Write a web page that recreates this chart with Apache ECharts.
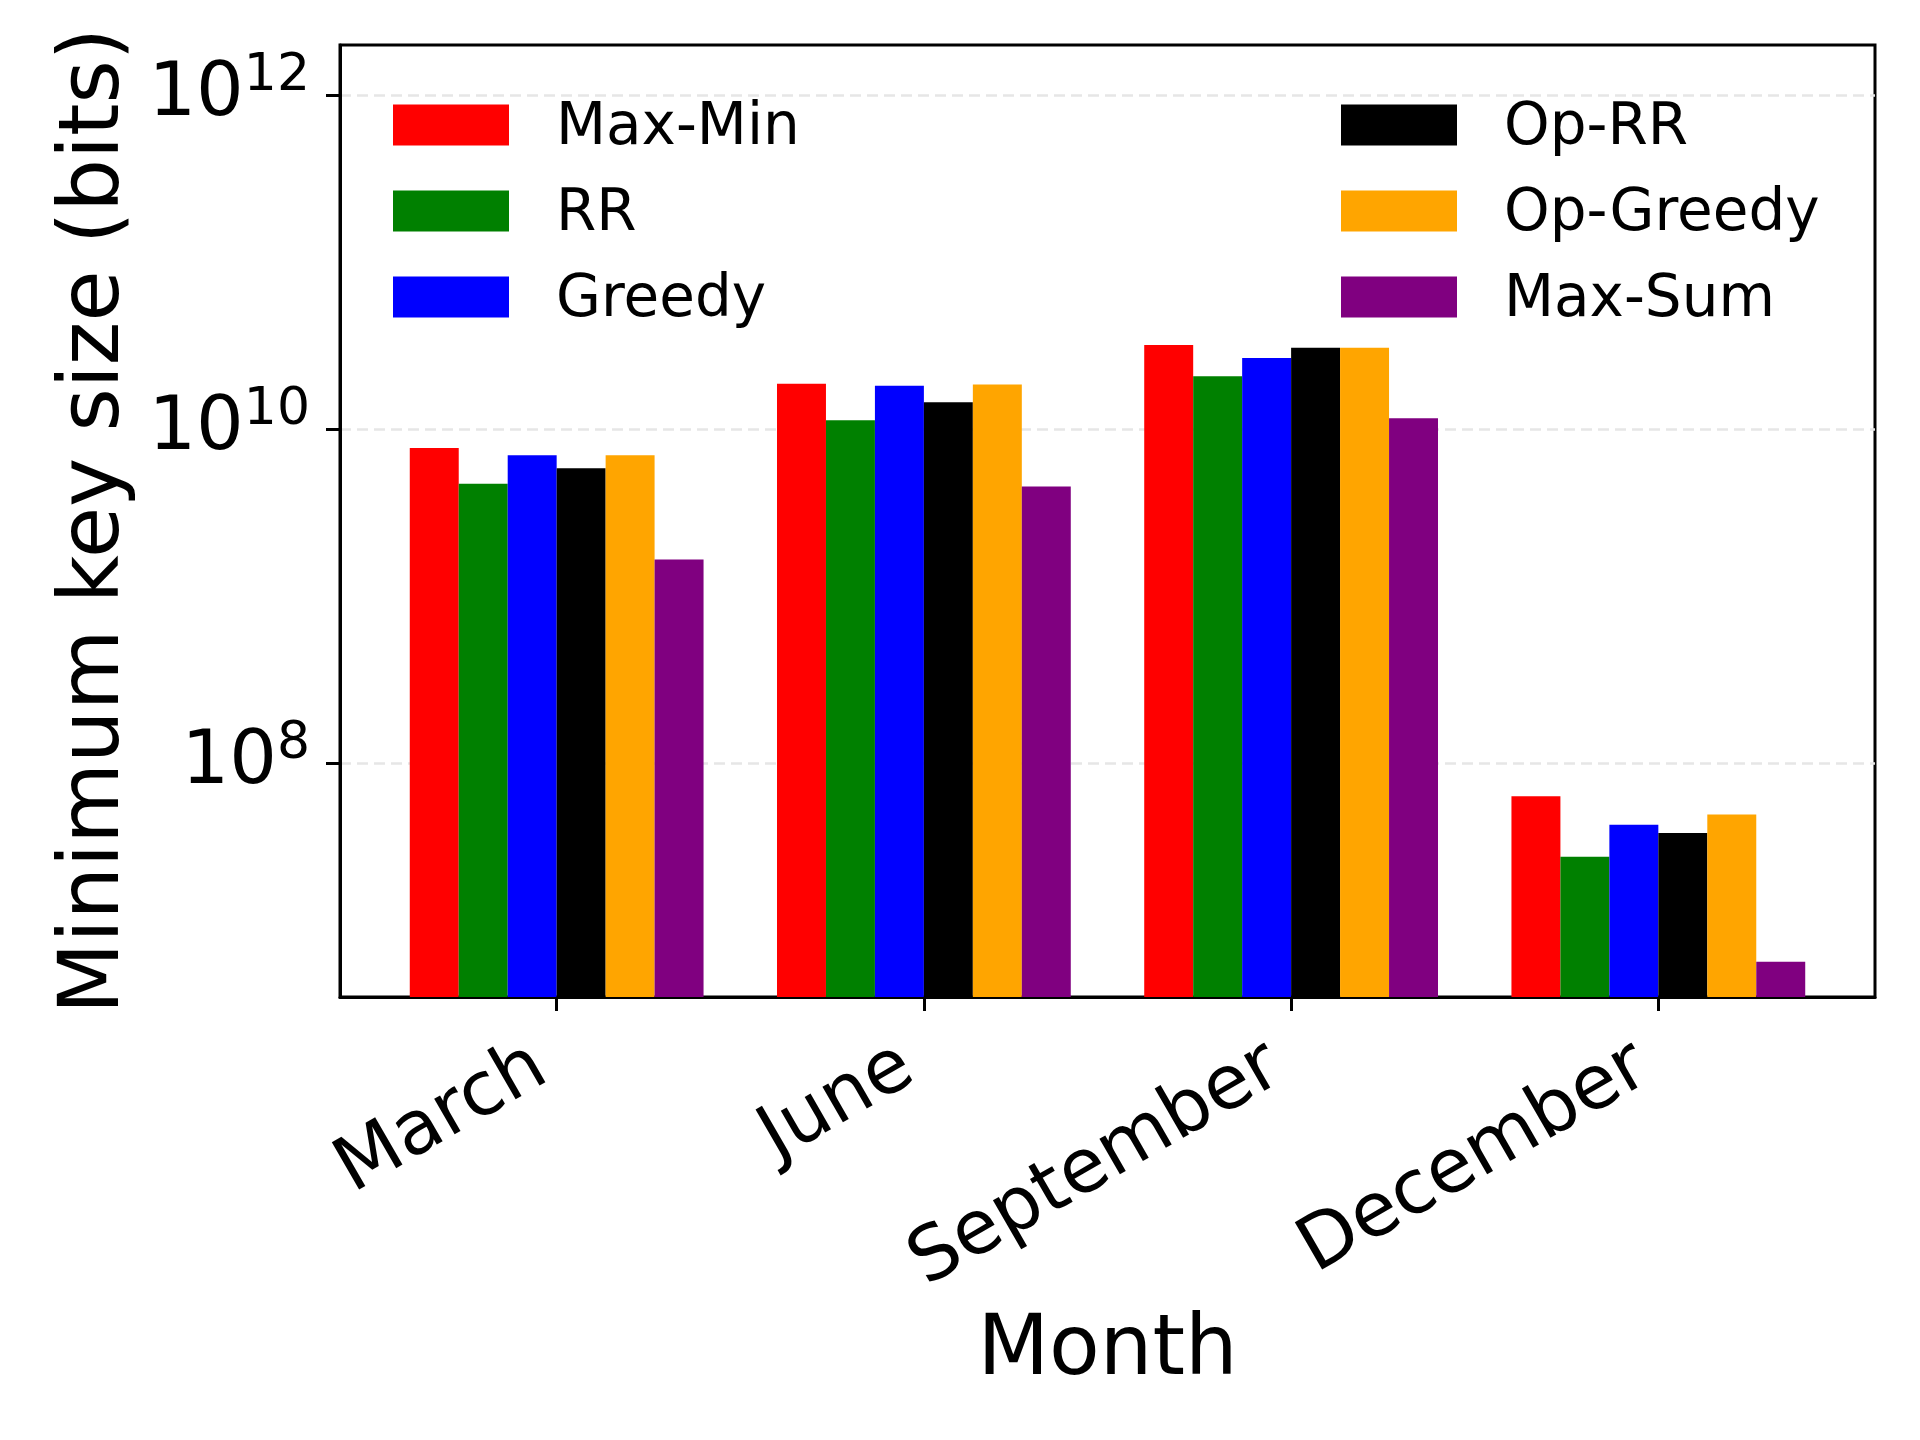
<!DOCTYPE html>
<html><head><meta charset="utf-8">
<script src="https://cdn.jsdelivr.net/npm/echarts@6/dist/echarts.min.js"></script>
<style>html,body{margin:0;padding:0;background:#fff}#c{width:1920px;height:1440px}</style>
</head><body><div id="c"></div>
<script>
const months = ['March', 'June', 'September', 'December'];
const monthPos = [0, 1, 2, 3];
const seriesNames = ['Max-Min', 'RR', 'Greedy', 'Op-RR', 'Op-Greedy', 'Max-Sum'];
const seriesColors = ['#ff0000', '#008000', '#0000ff', '#000000', '#ffa500', '#800080'];
const maxMin   = [7.71e9, 1.87e10, 3.19e10, 6.34e7];
const rr       = [4.71e9, 1.13e10, 2.07e10, 2.75e7];
const greedy   = [6.97e9, 1.82e10, 2.67e10, 4.28e7];
const opRR     = [5.83e9, 1.45e10, 3.07e10, 3.82e7];
const opGreedy = [6.97e9, 1.85e10, 3.07e10, 4.92e7];
const maxSum   = [1.66e9, 4.53e9, 1.16e10, 6.48e6];
const yTicks = [1e8, 1e10, 1e12];

const seriesValues = [maxMin, rr, greedy, opRR, opGreedy, maxSum];
const FONT = 'DejaVu Sans';

const chart = echarts.init(document.getElementById('c'), null, {renderer: 'canvas'});
const legendText = {fontSize: 58, fontFamily: FONT, color: '#000',
  rich: {t: {fontSize: 58, fontFamily: FONT, color: '#000', padding: [8, 0, 0, 42]}}};
const legendBase = {orient: 'vertical', top: 100, padding: 0, itemWidth: 116, itemHeight: 41, itemGap: 28,
  icon: 'rect', textStyle: legendText, selectedMode: false, formatter: n => '{t|' + n + '}'};
const option = {
  animation: false,
  backgroundColor: '#fff',
  grid: {left: 340, right: 45, top: 45, bottom: 443, show: true, borderColor: '#000', borderWidth: 3, containLabel: false},
  legend: [
    Object.assign({data: seriesNames.slice(0, 3), left: 393}, legendBase),
    Object.assign({data: seriesNames.slice(3), left: 1341}, legendBase)
  ],
  xAxis: {
    type: 'value', min: -0.59, max: 3.59,
    axisLine: {show: true, onZero: false, lineStyle: {color: '#000', width: 3}},
    axisTick: {show: true, customValues: monthPos, length: 14, lineStyle: {color: '#000', width: 3}},
    axisLabel: {customValues: monthPos, formatter: v => months[Math.round(v)], rotate: 30, margin: 56,
      padding: [0, 18, 0, 0], fontSize: 75, fontFamily: FONT, color: '#000'},
    splitLine: {show: false},
    name: 'Month', nameLocation: 'middle', nameGap: 314,
    nameTextStyle: {fontSize: 83, fontFamily: FONT, color: '#000'}
  },
  yAxis: {
    type: 'log', logBase: 10, min: Math.pow(10, 6.6), max: Math.pow(10, 12.3),
    axisLine: {show: true, onZero: false, lineStyle: {color: '#000', width: 3}},
    axisTick: {show: true, customValues: yTicks, length: 14, lineStyle: {color: '#000', width: 3}},
    minorTick: {show: false},
    axisLabel: {
      customValues: yTicks, margin: 30, color: '#000',
      formatter: v => '{b|10}{s|' + Math.round(Math.log10(v)) + '}',
      rich: {
        b: {fontSize: 75, fontFamily: FONT, color: '#000', lineHeight: 90},
        s: {fontSize: 52, fontFamily: FONT, color: '#000', lineHeight: 52, verticalAlign: 'top'}
      }
    },
    splitLine: {show: true, lineStyle: {color: '#e6e6e6', width: 2.5, type: [11, 6]}},
    name: 'Minimum key size (bits)', nameLocation: 'middle', nameGap: 201,
    nameTextStyle: {fontSize: 83, fontFamily: FONT, color: '#000'}
  },
  series: seriesNames.map((name, i) => ({
    name: name, type: 'bar', barGap: '0%', barCategoryGap: '20%',
    itemStyle: {color: seriesColors[i]},
    data: monthPos.map((x, j) => [x, seriesValues[i][j]])
  }))
};
chart.setOption(option);
</script>
</body></html>
